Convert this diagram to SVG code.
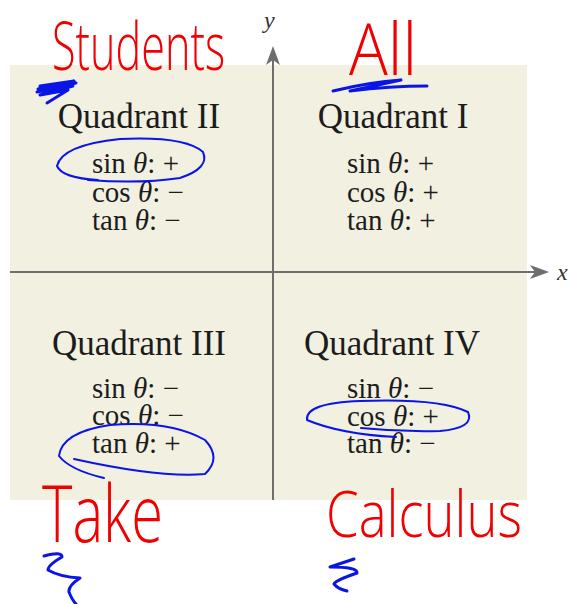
<svg xmlns="http://www.w3.org/2000/svg" width="568" height="604" viewBox="0 0 568 604">
<style>
.title{font-family:"Liberation Serif","Times New Roman",serif;font-size:35px;fill:#1c1c1c;text-anchor:middle}
.fn{font-family:"Liberation Serif","Times New Roman",serif;font-size:29px;fill:#1c1c1c}
.th{font-style:italic}
.axl{font-family:"Liberation Serif","Times New Roman",serif;font-style:italic;font-size:24px;fill:#333}
.axis{stroke:#6e6e6e;stroke-width:2;fill:none}
.hand{font-family:"Open Sans","Lato","Inter",sans-serif;font-weight:300;fill:#f00000}
.blue{stroke:#0a14e6;stroke-width:2;fill:none;stroke-linecap:round;stroke-linejoin:round}
.blueb{stroke:#0a14e6;stroke-width:3;fill:none;stroke-linecap:round;stroke-linejoin:round}
.arrow{fill:#6e6e6e}
</style>
<rect width="568" height="604" fill="#ffffff"/>
<rect id="plane" x="10" y="65" width="517" height="435" fill="#f1f0e1"/>
<g id="connectors">
<line class="axis" x1="10" y1="272" x2="535" y2="272"/>
<line class="axis" x1="273" y1="500" x2="273" y2="60"/>
<path class="arrow" d="M549,272 L530,265 L535,272 L530,279 Z"/>
<path class="arrow" d="M273,46 L266,65 L273,60 L280,65 Z"/>
</g>
<g id="axis-labels">
<text class="axl" x="264" y="28">y</text>
<text class="axl" x="557" y="280">x</text>
</g>
<g id="q2">
<text class="title" x="139" y="128">Quadrant II</text>
<text class="fn" x="92" y="173">sin <tspan class="th">θ</tspan>: +</text>
<text class="fn" x="92" y="202">cos <tspan class="th">θ</tspan>: −</text>
<text class="fn" x="92" y="230">tan <tspan class="th">θ</tspan>: −</text>
</g>
<g id="q1">
<text class="title" x="393" y="128">Quadrant I</text>
<text class="fn" x="347" y="173">sin <tspan class="th">θ</tspan>: +</text>
<text class="fn" x="347" y="202">cos <tspan class="th">θ</tspan>: +</text>
<text class="fn" x="347" y="230">tan <tspan class="th">θ</tspan>: +</text>
</g>
<g id="q3">
<text class="title" x="139" y="355">Quadrant III</text>
<text class="fn" x="92" y="398">sin <tspan class="th">θ</tspan>: −</text>
<text class="fn" x="92" y="425">cos <tspan class="th">θ</tspan>: −</text>
<text class="fn" x="92" y="453">tan <tspan class="th">θ</tspan>: +</text>
</g>
<g id="q4">
<text class="title" x="392" y="355">Quadrant IV</text>
<text class="fn" x="347" y="398">sin <tspan class="th">θ</tspan>: −</text>
<text class="fn" x="347" y="426">cos <tspan class="th">θ</tspan>: +</text>
<text class="fn" x="347" y="453">tan <tspan class="th">θ</tspan>: −</text>
</g>
<g id="annotations">
<text class="hand" x="52" y="70" font-size="66" textLength="173" lengthAdjust="spacingAndGlyphs">Students</text>
<text class="hand" x="349" y="75" font-size="72" textLength="68" lengthAdjust="spacingAndGlyphs">All</text>
<text class="hand" x="42" y="542" font-size="80" textLength="121" lengthAdjust="spacingAndGlyphs">Take</text>
<text class="hand" x="326" y="537" font-size="64" textLength="196" lengthAdjust="spacingAndGlyphs">Calculus</text>
<path class="blueb" d="M40,86 L74,81 L38,89 L76,83 L37,92 L73,86 L40,95 L68,90 L47,103"/>
<path class="blueb" d="M333,91 Q370,82 401,80 L350,91 Q390,86 427,86"/>
<path class="blue" d="M104,478 Q70,470 59,456 Q62,432 110,425 Q170,420 205,440 Q222,458 205,474 Q160,478 74,459"/>
<path class="blue" d="M98,180 Q62,178 57,166 Q62,145 120,139 Q185,136 203,152 Q210,168 180,178 Q140,184 88,180"/>
<path class="blue" d="M396,437 Q340,434 307,420 Q305,403 360,401 Q440,398 468,412 Q475,428 440,431 Q400,432 361,428"/>
<path class="blueb" d="M44,556 Q62,551 62,557 Q48,565 48,570 Q60,577 80,578 Q68,586 69,592 Q72,600 76,604"/>
<path class="blueb" d="M354,559 L330,567 Q358,567 357,573 Q336,580 334,584 Q338,589 347,591"/>
</g>
</svg>
